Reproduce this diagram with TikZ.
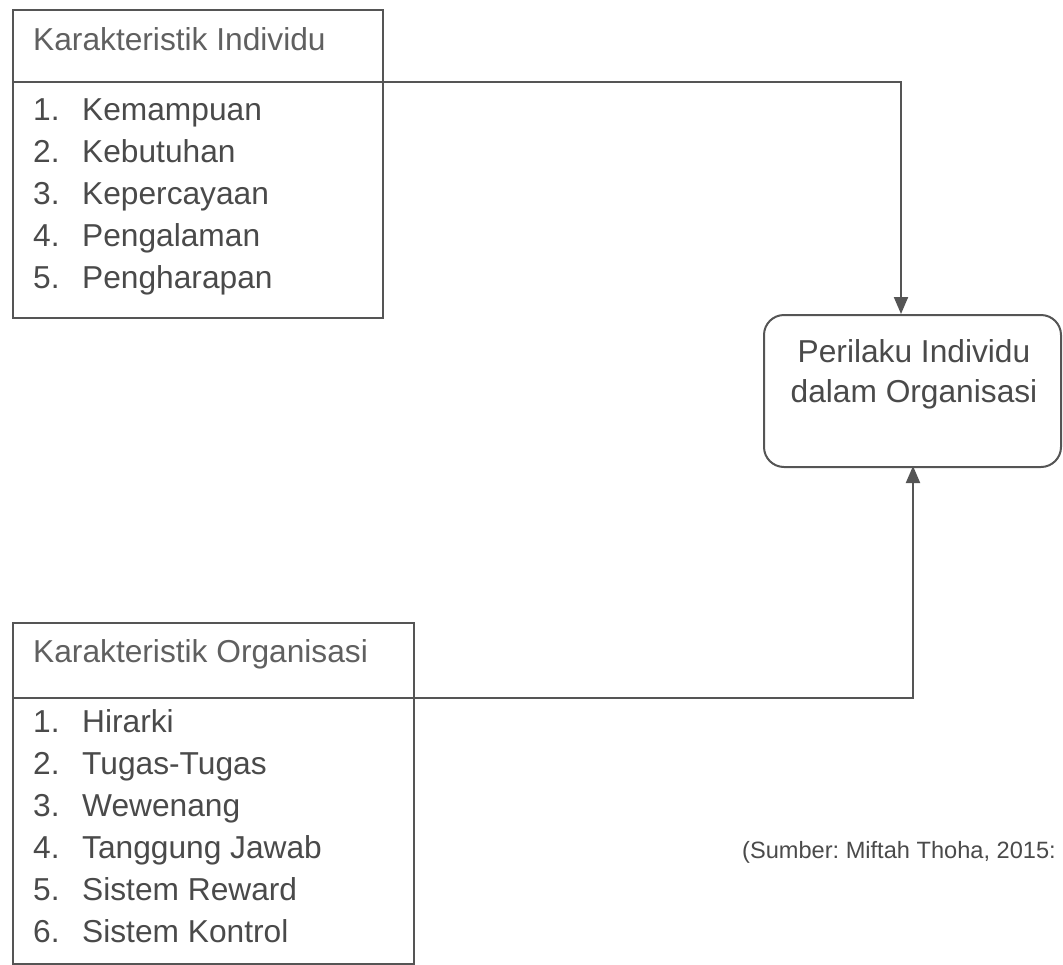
\documentclass[tikz,border=0pt]{standalone}
\usepackage{fontspec}
\setmainfont{Liberation Sans}
\usetikzlibrary{arrows.meta,calc}
\frenchspacing
\definecolor{linec}{HTML}{555555}
\definecolor{txtc}{HTML}{4A4A4A}
\definecolor{titc}{HTML}{606060}
\tikzset{
  box/.style={draw=linec, line width=2pt, rectangle, inner sep=0pt, anchor=north west},
  rbox/.style={draw=linec, line width=2pt, rectangle, rounded corners=20pt, inner sep=0pt, anchor=north west},
  txt/.style={anchor=base west, inner sep=0pt, text=txtc, font=\fontsize{31.7pt}{38pt}\selectfont},
  tit/.style={txt, text=titc},
  ctxt/.style={anchor=base, inner sep=0pt, text=txtc, font=\fontsize{31.7pt}{38pt}\selectfont},
  src/.style={anchor=base west, inner sep=0pt, text=txtc, font=\fontsize{23.6pt}{30pt}\selectfont},
  conn/.style={draw=linec, line width=2pt, -{Triangle[length=17pt,width=14pt]}},
  divl/.style={draw=linec, line width=2pt}
}
\newcommand{\itm}[2]{\makebox[49pt][l]{#1}#2}
\begin{document}
\begin{tikzpicture}[x=1pt,y=-1pt]
\useasboundingbox (0,0) rectangle (1063,964);
% top box
\node[box, minimum width=370pt, minimum height=308pt] (ki) at (12,9) {};
\node[tit] (kit) at (33,50) {Karakteristik Individu};
\coordinate (d1) at (12,82);
\draw[divl] (d1) -- (d1 -| ki.east);
\node[txt] (k1) at (33,120) {\itm{1.}{Kemampuan}};
\node[txt] (k2) at (33,162) {\itm{2.}{Kebutuhan}};
\node[txt] (k3) at (33,204) {\itm{3.}{Kepercayaan}};
\node[txt] (k4) at (33,246) {\itm{4.}{Pengalaman}};
\node[txt] (k5) at (33,288) {\itm{5.}{Pengharapan}};
% bottom box
\node[box, minimum width=401pt, minimum height=341pt] (ko) at (12,622) {};
\node[tit] (kot) at (33,662) {Karakteristik Organisasi};
\coordinate (d2) at (12,698);
\draw[divl] (d2) -- (d2 -| ko.east);
\node[txt] (o1) at (33,732) {\itm{1.}{Hirarki}};
\node[txt] (o2) at (33,774) {\itm{2.}{Tugas-Tugas}};
\node[txt] (o3) at (33,816) {\itm{3.}{Wewenang}};
\node[txt] (o4) at (33,858) {\itm{4.}{Tanggung Jawab}};
\node[txt] (o5) at (33,900) {\itm{5.}{Sistem Reward}};
\node[txt] (o6) at (33,942) {\itm{6.}{Sistem Kontrol}};
% right box
\node[rbox, minimum width=297pt, minimum height=152pt] (pi) at (763,314) {};
\node[ctxt] (pit1) at (914,362) {Perilaku Individu};
\node[ctxt] (pit2) at (914,402) {dalam Organisasi};
% source
\node[src] (srcn) at (742,858) {(Sumber: Miftah Thoha, 2015:};
% connectors
\coordinate (t1) at (901,314);
\coordinate (t2) at (913,466);
\draw[conn] (d1 -| ki.east) -| (t1);
\draw[conn] (d2 -| ko.east) -| (t2);
\end{tikzpicture}
\end{document}
